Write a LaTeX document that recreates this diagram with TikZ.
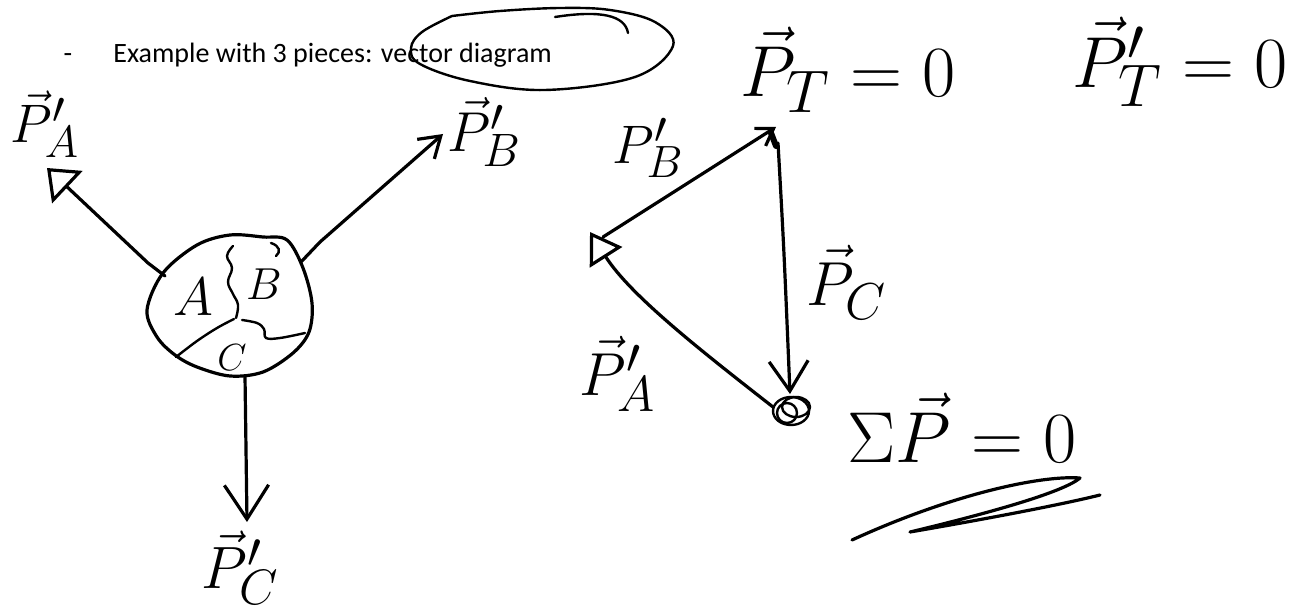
\documentclass[tikz,border=0pt]{standalone}
\usepackage{graphicx}
\usepackage{fontspec}
\newfontfamily\carlito{Carlito}
\usetikzlibrary{arrows.meta}
\newcommand{\hw}[2]{\scalebox{#1}{$#2$}}
\begin{document}
\begin{tikzpicture}[x=0.5pt,y=-0.5pt,
  ink/.style={line width=1.6pt, line cap=round, line join=round},
  thin ink/.style={line width=1.2pt, line cap=round, line join=round},
  hand/.style={inner sep=0pt, font=\fontsize{24.88}{26}\selectfont},
  openhead/.style={-{Triangle[open,length=14pt,width=22pt,line width=1.6pt]}},
  barbhead/.style={-{Straight Barb[length=#1,width=1.3*#1,line width=1.6pt]}}]
\useasboundingbox (0,0) rectangle (1304,614);
\fill[white] (0,0) rectangle (1304,614);

% title
\node[anchor=base, inner sep=0pt, font=\carlito\fontsize{14}{16}\selectfont] (dash) at (68,63) {-};
\node[anchor=base west, inner sep=0pt, font=\carlito\fontsize{14}{16}\selectfont] (title) at (113,63) {Example with 3 pieces: vector diagram};
% hand-drawn ellipse round "vector diagram"
\draw[thin ink] plot[smooth, tension=0.6] coordinates {(452,16) (422,32) (411,48) (420,64) (470,81) (545,90) (635,77) (673,46) (655,22) (610,10) (560,8) (500,11) (452,16)};
\draw[thin ink] (555,17) .. controls (600,10) and (625,15) .. (628,33);

% blob A B C
\draw[ink] plot[smooth cycle, tension=0.55] coordinates {(147,310) (163,273) (197,245) (230,235) (263,237) (287,240) (303,268) (312,303) (309,332) (293,353) (263,372) (230,376) (197,367) (175,355) (157,337)};
\draw[thin ink] (271,243) .. controls (280,246) and (281,252) .. (276,256);
\draw[thin ink] plot[smooth, tension=0.7] coordinates {(233,246) (227,256) (232,268) (228,282) (233,294) (238,305) (236,318)};
\draw[thin ink] plot[smooth, tension=0.6] coordinates {(176,357) (197,341) (217,328) (234,319)};
\draw[thin ink] plot[smooth, tension=0.6] coordinates {(242,320) (257,323) (264,329) (266,338) (280,338) (305,333)};
\node[hand] (lA) at (193,297) {\hw{1.09}{A}};
\node[hand] (lB) at (264,284) {\hw{0.9}{B}};
\node[hand] (lC) at (232,358) {\hw{0.76}{C}};

\coordinate (bA) at (165,276);
\coordinate (kA) at (148,263);
\coordinate (tipA) at (47,168);
\coordinate (bB) at (301,262);
\coordinate (kB) at (320,242);
\coordinate (tipB) at (443,134);
\coordinate (bC) at (245,376);
\coordinate (tipC) at (247,522);
\draw[ink, openhead] (bA) -- (kA) -- (tipA);
\draw[ink, barbhead=10pt] (bB) -- (kB) -- (tipB);
\draw[ink, barbhead=17pt] (bC) -- (tipC);

\node[hand] (pA1) at (45,124) {\hw{1.09}{\vec{P}'_A}};
\node[hand] (pB1) at (484,132) {\hw{1.13}{\vec{P}'_B}};
\node[hand] (pC1) at (240,568) {\hw{1.2}{\vec{P}'_C}};

% vector triangle
\coordinate (L) at (590,232);
\coordinate (Ls) at (603,237);
\coordinate (T) at (776,127);
\coordinate (Tb) at (778,143);
\coordinate (Bt) at (790,394);
\coordinate (Bs) at (773,407);
\draw[ink, barbhead=8pt] (Ls) -- (T);
\draw[line width=3pt, line cap=round] (771,133) -- (776,146);
\draw[ink, barbhead=15pt] (Tb) .. controls (784,250) .. (Bt);
\draw[ink, -{Triangle[open,length=15pt,width=19pt,line width=1.6pt]}] (Bs) .. controls (700,350) and (630,295) .. (L);
\draw[thin ink] (791,411) ellipse [x radius=9pt, y radius=7pt];
\draw[thin ink] (796,407) ellipse [x radius=7pt, y radius=5pt];
\draw[thin ink] (787,413) ellipse [x radius=5pt, y radius=5pt];

\node[hand] (tB) at (648,148) {\hw{1.09}{P'_B}};
\node[hand] (tC) at (847,282) {\hw{1.25}{\vec{P}_C}};
\node[hand] (tA) at (618,374) {\hw{1.22}{\vec{P}'_A}};

% equations
\node[hand] (eqT) at (848,70) {\hw{1.45}{\vec{P}_T = 0}};
\node[hand] (eqT1) at (1180,62) {\hw{1.45}{\vec{P}'_T = 0}};
\node[hand] (eqS) at (962,428) {\hw{1.45}{\Sigma\vec{P} = 0}};
\draw[ink] (852,540) .. controls (950,495) and (1040,475) .. (1080,478) .. controls (1060,495) and (960,520) .. (910,532) .. controls (980,520) and (1060,505) .. (1100,495);
\end{tikzpicture}
\end{document}
